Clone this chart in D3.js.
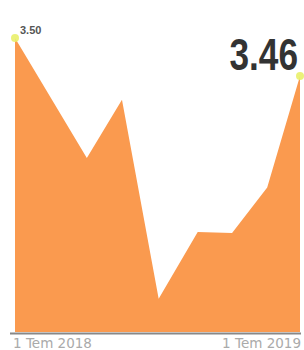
<!DOCTYPE html>
<html>
<head>
<meta charset="utf-8">
<script src="https://cdn.jsdelivr.net/npm/d3@7"></script>
<style>
  body { margin: 0; background: #fff; }
  svg { display: block; }
</style>
</head>
<body>
<svg id="vis"></svg>
<script>
// values
const dates = ["2018-07-01", "2018-10-01", "2018-11-15", "2019-01-01", "2019-02-20", "2019-04-05", "2019-05-20", "2019-07-01"];
const values = [3.50, 3.374, 3.435, 3.226, 3.296, 3.295, 3.343, 3.46];
const tickLabels = ["1 Tem 2018", "1 Tem 2019"];

const W = 304, H = 350;
const parse = d3.timeParse("%Y-%m-%d");
const data = dates.map((d, i) => ({date: parse(d), v: values[i]}));

const svg = d3.select("#vis").attr("width", W).attr("height", H);

const x = d3.scaleTime()
    .domain(d3.extent(data, d => d.date))
    .range([15, 300]);
const y = d3.scaleLinear()
    .domain([3.191, 3.50])
    .range([332, 38]);

const area = d3.area()
    .x(d => x(d.date))
    .y0(y(3.191))
    .y1(d => y(d.v));

svg.append("path")
    .datum(data)
    .attr("d", area)
    .attr("fill", "#fa9a4f");

// axis line
svg.append("line")
    .attr("x1", 10).attr("x2", 301)
    .attr("y1", 333.5).attr("y2", 333.5)
    .attr("stroke", "#888").attr("stroke-width", 2);

svg.append("text")
    .attr("x", 13).attr("y", 348)
    .attr("font-family", "DejaVu Sans, sans-serif")
    .attr("font-size", 13.5).attr("fill", "#aaa")
    .text(tickLabels[0]);
svg.append("text")
    .attr("x", 301).attr("y", 348)
    .attr("text-anchor", "end")
    .attr("font-family", "DejaVu Sans, sans-serif")
    .attr("font-size", 13.5).attr("fill", "#aaa")
    .text(tickLabels[1]);

// end point markers
const ends = [data[0], data[data.length - 1]];
svg.selectAll("circle.end").data(ends)
    .join("circle")
    .attr("class", "end")
    .attr("cx", d => x(d.date))
    .attr("cy", d => y(d.v))
    .attr("r", 4)
    .attr("fill", "#e9ef6a")
    .attr("opacity", 0.9);

// first value label
svg.append("text")
    .attr("x", x(data[0].date) + 5).attr("y", y(data[0].v) - 4)
    .attr("font-family", "Liberation Sans, sans-serif")
    .attr("font-weight", "bold")
    .attr("font-size", 11).attr("fill", "#555")
    .text(d3.format(".2f")(data[0].v));

// last value label, condensed by squeezing horizontally
svg.append("text")
    .attr("transform", "translate(298,70) scale(0.8,1)")
    .attr("text-anchor", "end")
    .attr("font-family", "Liberation Sans, sans-serif")
    .attr("font-weight", "bold")
    .attr("font-size", 44).attr("fill", "#333")
    .text(d3.format(".2f")(data[data.length - 1].v));
</script>
</body>
</html>
